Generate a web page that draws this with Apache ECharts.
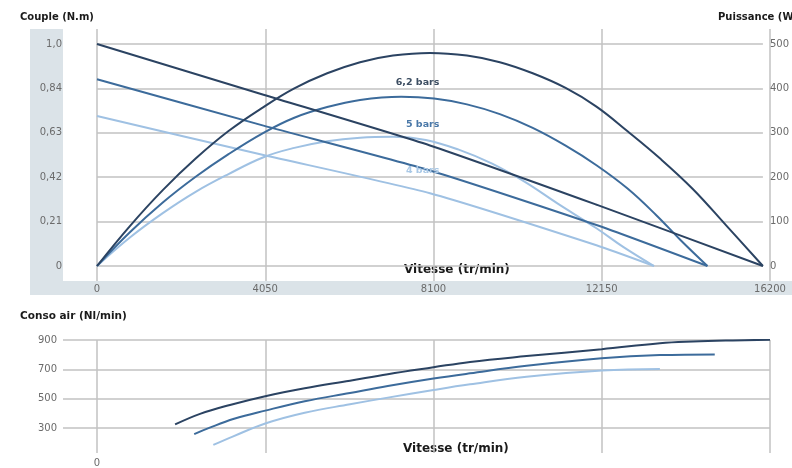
<!DOCTYPE html>
<html>
<head>
<meta charset="utf-8">
<script src="https://cdn.jsdelivr.net/npm/echarts@6/dist/echarts.min.js"></script>
<style>
html,body{margin:0;padding:0;background:#fff;}
#c{width:792px;height:468px;}
</style>
</head>
<body>
<div id="c"></div>
<script>
// ---- data ----
const pressures = ['6,2 bars', '5 bars', '4 bars'];
const speedTickLabels = ['0', '4050', '8100', '12150', '16200'];
const torqueTickLabels = ['0', '0,21', '0,42', '0,63', '0,84', '1,0'];
const powerTickLabels = ['0', '100', '200', '300', '400', '500'];
const airTickLabels = ['300', '500', '700', '900'];

// torque (N.m, axis units) vs speed (tr/min)
const torque62 = [[0,1.05],[4050,0.81],[8100,0.57],[12150,0.29],[16200,0]];
const torque5  = [[0,0.883],[4050,0.664],[8100,0.452],[12150,0.194],[14850,0]];
const torque4  = [[0,0.709],[4050,0.525],[8100,0.344],[12150,0.098],[13550,0]];

// power (W) vs speed
const power62 = [[0,0],[800,90],[1600,171],[2400,242],[3200,304],[4050,358],[4800,400],[5600,434],[6400,459],[7200,474],[8100,480],
                 [9000,474],[9800,459],[10600,434],[11400,401],[12150,359],[12900,304],[13700,242],[14500,173],[15300,92],[16200,0]];
const power5  = [[0,0],[800,76],[1600,143],[2400,201],[3200,252],[4050,300],[4800,334],[5600,358],[6400,374],[7400,381],
                 [8200,377],[9000,364],[9800,342],[10600,311],[11400,271],[12150,227],[12900,175],[13600,115],[14200,58],[14850,0]];
const power4  = [[0,0],[800,64],[1600,119],[2400,167],[3200,207],[4050,245],[4800,266],[5600,281],[6400,289],[7200,291],
                 [8000,284],[8800,262],[9600,231],[10400,190],[11200,141],[12150,85],[12800,43],[13550,0]];

// air consumption (Nl/min) vs speed
const air62 = [[1880,302],[2480,377],[3200,440],[4050,502],[5000,558],[6090,612],[7000,658],[8100,707],[8980,745],[10340,786],[12150,835],[13550,877],[14350,889],[15300,897],[16200,902]];
const air5  = [[2340,234],[2700,278],[3300,342],[4050,400],[5000,466],[6090,525],[7000,574],[8100,627],[8980,664],[10340,717],[12150,770],[13550,793],[14870,798]];
const air4  = [[2800,157],[3280,218],[4050,309],[5000,385],[6090,445],[7000,492],[8100,546],[8980,586],[10340,639],[12150,684],[13550,695]];

// ---- styles ----
const colors = ['#2b4362', '#3c6b9b', '#9fc1e3'];
const labelColors = ['#3d4e62', '#4a78a8', '#a9c8e6'];
const gridColor = '#c2c2c2';
const tickColor = '#6b6b6b';
const tickFont = {color: tickColor, fontSize: 10, fontFamily: 'DejaVu Sans'};
const splitStyle = {show: true, lineStyle: {color: gridColor, width: 1.5}};

function line(name, data, ci, xi, yi, extra) {
  return Object.assign({
    name: name, type: 'line', data: data,
    xAxisIndex: xi, yAxisIndex: yi,
    smooth: 0.4, symbol: 'none', showSymbol: false,
    lineStyle: {color: colors[ci], width: 2},
    itemStyle: {color: colors[ci]},
    z: 5 - ci
  }, extra || {});
}
function tag(ci, y) {
  return {
    symbol: 'circle', symbolSize: 0, silent: true,
    data: [{name: pressures[ci], coord: [8330, y]}],
    label: {show: true, position: 'left', distance: 0, formatter: '{b}',
            color: labelColors[ci], fontSize: 9.5, fontWeight: 'bold', fontFamily: 'DejaVu Sans'}
  };
}

const chart = echarts.init(document.getElementById('c'), null, {renderer: 'canvas'});
chart.setOption({
  animation: false,
  backgroundColor: '#ffffff',
  graphic: {elements: [
    {type: 'rect', shape: {x: 30, y: 29, width: 33, height: 266}, style: {fill: '#dbe3e8'}, z: -10, silent: true},
    {type: 'rect', shape: {x: 30, y: 281, width: 762, height: 14}, style: {fill: '#dbe3e8'}, z: -10, silent: true},
    {type: 'text', left: 20, top: 12, style: {text: 'Couple (N.m)', font: 'bold 10px "DejaVu Sans"', fill: '#1a1a1a'}},
    {type: 'text', left: 718, top: 12, style: {text: 'Puissance (W)', font: 'bold 10px "DejaVu Sans"', fill: '#1a1a1a'}},
    {type: 'text', left: 404, top: 264, style: {text: 'Vitesse (tr/min)', font: 'bold 12px "DejaVu Sans"', fill: '#1a1a1a'}},
    {type: 'text', left: 20, top: 311, style: {text: 'Conso air (Nl/min)', font: 'bold 10.5px "DejaVu Sans"', fill: '#1a1a1a'}},
    {type: 'text', left: 403, top: 443, style: {text: 'Vitesse (tr/min)', font: 'bold 12px "DejaVu Sans"', fill: '#1a1a1a'}}
  ]},
  grid: [
    {left: 97, right: 22, top: 44, height: 222},
    {left: 97, right: 22, top: 29, height: 252},
    {left: 63, right: 22, top: 340, height: 88},
    {left: 97, right: 22, top: 340, height: 117}
  ],
  xAxis: [
    {gridIndex: 0, type: 'value', min: 0, max: 16200, show: false},
    {gridIndex: 1, type: 'value', min: 0, max: 16200, interval: 4050,
     axisLine: {show: false}, axisTick: {show: false}, splitLine: splitStyle,
     axisLabel: Object.assign({margin: 3, formatter: (v, i) => speedTickLabels[i]}, tickFont)},
    {gridIndex: 2, type: 'value', min: 0, max: 1, show: false},
    {gridIndex: 3, type: 'value', min: 0, max: 16200, interval: 4050,
     axisLine: {show: false}, axisTick: {show: false}, splitLine: splitStyle,
     axisLabel: Object.assign({margin: 5, formatter: (v, i) => i === 0 ? speedTickLabels[0] : ''}, tickFont)}
  ],
  yAxis: [
    {gridIndex: 0, type: 'value', position: 'left', min: 0, max: 1.05, interval: 0.21,
     axisLine: {show: false}, axisTick: {show: false}, splitLine: splitStyle,
     axisLabel: Object.assign({margin: 35, formatter: (v, i) => torqueTickLabels[i]}, tickFont)},
    {gridIndex: 0, type: 'value', position: 'right', min: 0, max: 500, interval: 100,
     axisLine: {show: false}, axisTick: {show: false}, splitLine: {show: false},
     axisLabel: Object.assign({margin: 7, formatter: (v, i) => powerTickLabels[i]}, tickFont)},
    {gridIndex: 1, type: 'value', min: 0, max: 1, show: false},
    {gridIndex: 2, type: 'value', min: 300, max: 900, interval: 200,
     axisLine: {show: false}, axisTick: {show: false}, splitLine: splitStyle,
     axisLabel: Object.assign({margin: 6, formatter: (v, i) => airTickLabels[i]}, tickFont)},
    {gridIndex: 3, type: 'value', min: 100, max: 900, show: false}
  ],
  series: [
    line('Couple 6,2 bars', torque62, 0, 0, 0, {smooth: 0.2}),
    line('Couple 5 bars', torque5, 1, 0, 0, {smooth: 0.2}),
    line('Couple 4 bars', torque4, 2, 0, 0, {smooth: 0.2}),
    line('Puissance 6,2 bars', power62, 0, 0, 1, {markPoint: tag(0, 414)}),
    line('Puissance 5 bars', power5, 1, 0, 1, {markPoint: tag(1, 318)}),
    line('Puissance 4 bars', power4, 2, 0, 1, {markPoint: tag(2, 216)}),
    line('Conso 6,2 bars', air62, 0, 3, 4),
    line('Conso 5 bars', air5, 1, 3, 4),
    line('Conso 4 bars', air4, 2, 3, 4)
  ]
});
</script>
</body>
</html>
